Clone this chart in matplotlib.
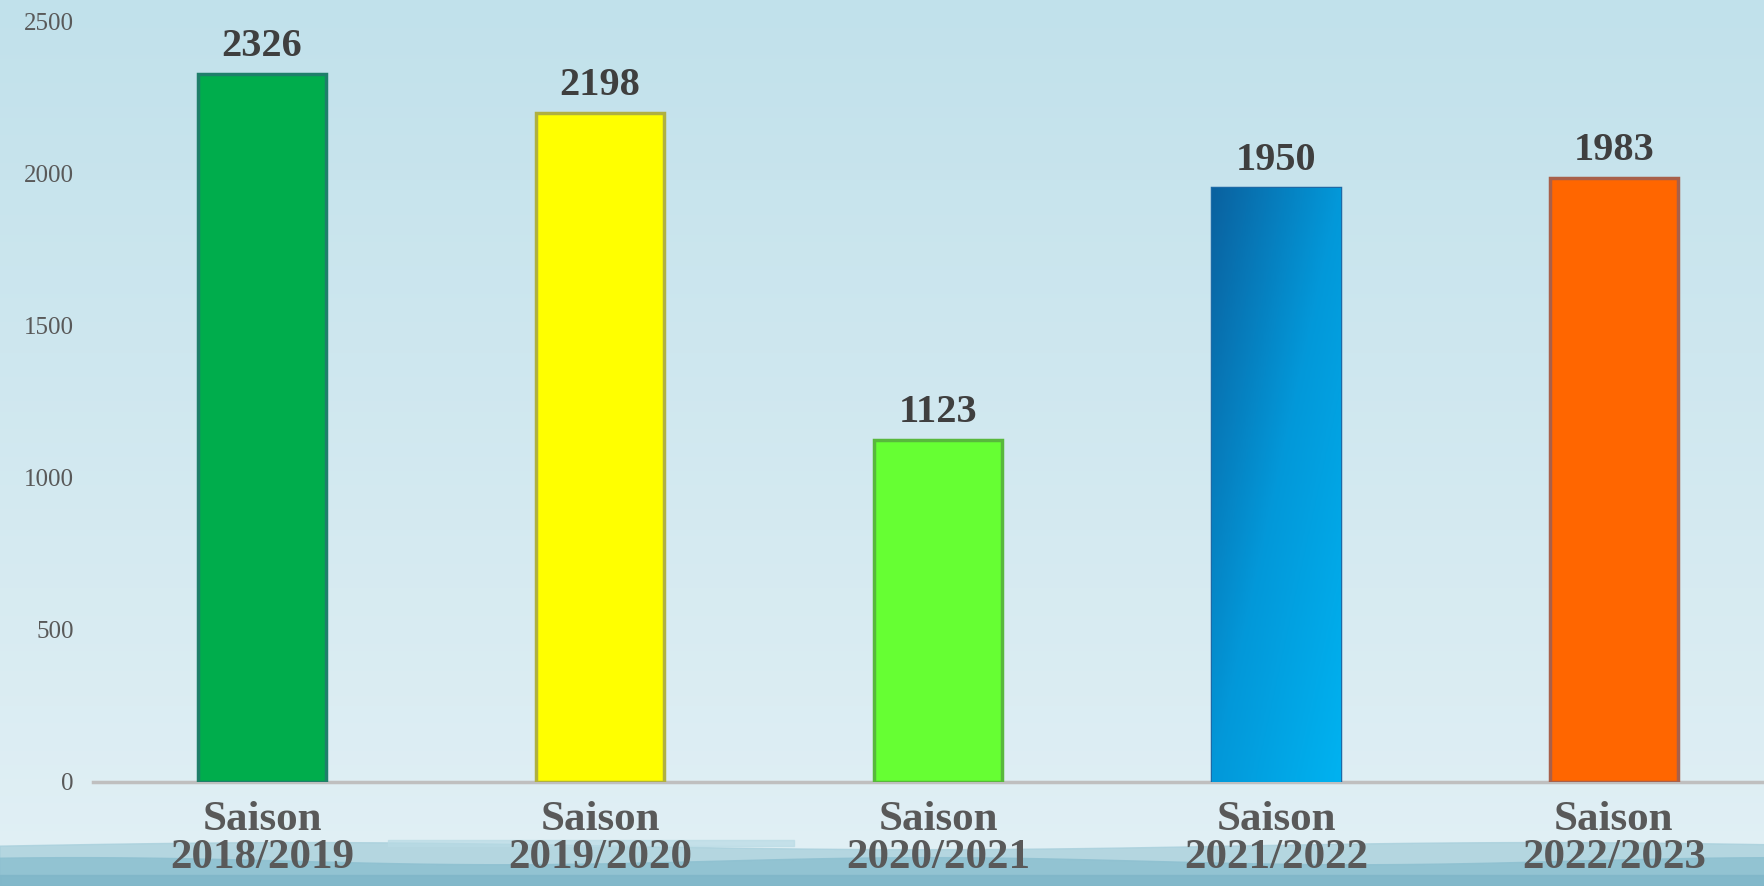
import matplotlib.pyplot as plt
import numpy as np
from matplotlib.colors import LinearSegmentedColormap

# Données
saisons = ["Saison\n2018/2019", "Saison\n2019/2020", "Saison\n2020/2021",
           "Saison\n2021/2022", "Saison\n2022/2023"]
valeurs = [2326, 2198, 1123, 1950, 1983]
couleurs = ["#00ad4c", "#ffff00", "#66ff33", "#0590d4", "#ff6600"]
bords = ["#1f7f6a", "#b0b040", "#58b83c", "#1d6aa6", "#a8604a"]
yticks = [0, 500, 1000, 1500, 2000, 2500]

plt.rcParams['font.family'] = ['Liberation Serif', 'DejaVu Serif']

fig = plt.figure(figsize=(17.65, 8.86), dpi=100)

# fond dégradé + vagues en bas
bg = fig.add_axes([0, 0, 1, 1], zorder=-10)
bg.set_axis_off()
grad = np.linspace(0, 1, 256).reshape(-1, 1)
cmap_bg = LinearSegmentedColormap.from_list("bg", ["#c1e1eb", "#e2f0f5"])
bg.imshow(grad, aspect='auto', cmap=cmap_bg, extent=[0, 1, 0, 1], origin='upper')
xx = np.linspace(0, 1, 400)
bg.fill_between(xx, 0, 0.045 + 0.004 * np.sin(xx * 9), color="#a9d0dc", alpha=0.8)
bg.fill_between(xx, 0, 0.028 + 0.004 * np.sin(xx * 13 + 1), color="#8fc1d1", alpha=0.9)
bg.fill_between(xx, 0, 0.012, color="#7fb6c8", alpha=0.8)
bg.fill_between([0.22, 0.45], 0.045, 0.052, color="#b9dbe5", alpha=0.7)
bg.set_xlim(0, 1)
bg.set_ylim(0, 1)

ax = fig.add_axes([93 / 1765, 104 / 886, 1 - 93 / 1765, 761 / 886])
ax.patch.set_alpha(0)

x = np.arange(len(valeurs))
bars = ax.bar(x, valeurs, width=0.38, color=couleurs, edgecolor=bords,
              linewidth=2.5, zorder=3)

# dégradé pour la barre bleue (foncé en haut à gauche)
b = bars[3]
cmap_blue = LinearSegmentedColormap.from_list("bl", ["#0a62a0", "#0398d9", "#00b2f0"])
gx, gy = np.meshgrid(np.linspace(0, 1, 50), np.linspace(0, 1, 50))
ax.imshow((gx + gy) / 2, cmap=cmap_blue, aspect='auto', zorder=3.5,
          extent=[b.get_x(), b.get_x() + b.get_width(), 0, b.get_height()],
          clip_path=b, clip_on=True)

for xi, v in zip(x, valeurs):
    ax.annotate(str(v), (xi, v), xytext=(0, 13), textcoords='offset points',
                ha='center', va='baseline', fontsize=29, fontweight='bold',
                color="#3f3f3f")

ax.set_xlim(-0.5, 4.447)
ax.set_ylim(0, 2500)
ax.set_yticks(yticks)
ax.set_yticklabels([str(t) for t in yticks], fontsize=18, color="#595959")
ax.set_xticks(x)
ax.set_xticklabels(saisons, fontsize=31, fontweight='bold', color="#595959",
                   linespacing=1.0)
ax.tick_params(axis='y', length=0, pad=14)
ax.tick_params(axis='x', length=0, pad=14)

for s in ['top', 'right', 'left']:
    ax.spines[s].set_visible(False)
ax.spines['bottom'].set_color("#bfbfbf")
ax.spines['bottom'].set_linewidth(2.5)
ax.spines['bottom'].set_zorder(2)

fig.savefig("out.png", dpi=100)
